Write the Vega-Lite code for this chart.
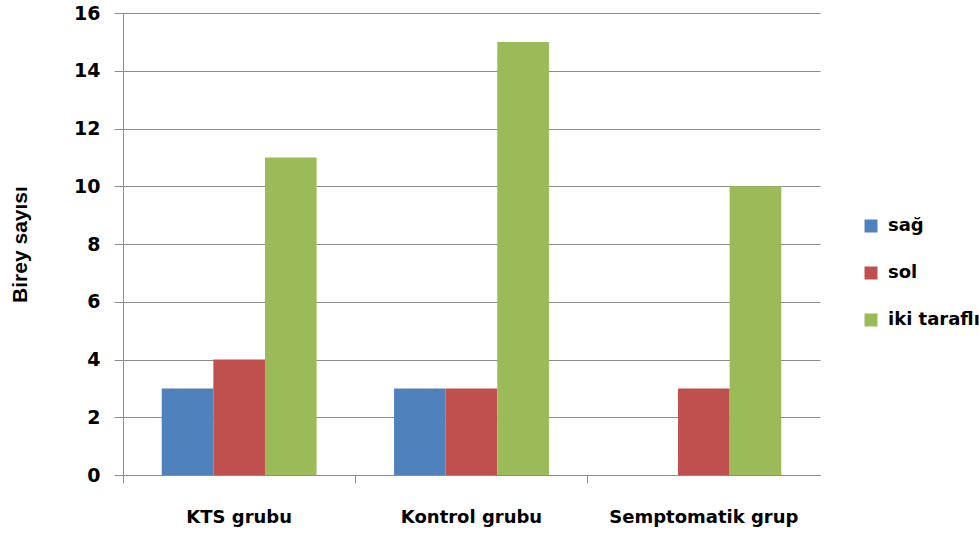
{
  "$schema": "https://vega.github.io/schema/vega-lite/v6.json",
  "width": 697,
  "height": 462,
  "autosize": {"type": "none"},
  "padding": {"left": 123, "top": 13, "right": 159, "bottom": 63},
  "background": "white",
  "config": {
    "view": {"stroke": null},
    "font": "DejaVu Sans"
  },
  "data": {
    "values": [
      {"grup": "KTS grubu", "taraf": "sağ", "sayi": 3},
      {"grup": "KTS grubu", "taraf": "sol", "sayi": 4},
      {"grup": "KTS grubu", "taraf": "iki taraflı", "sayi": 11},
      {"grup": "Kontrol grubu", "taraf": "sağ", "sayi": 3},
      {"grup": "Kontrol grubu", "taraf": "sol", "sayi": 3},
      {"grup": "Kontrol grubu", "taraf": "iki taraflı", "sayi": 15},
      {"grup": "Semptomatik grup", "taraf": "sağ", "sayi": 0},
      {"grup": "Semptomatik grup", "taraf": "sol", "sayi": 3},
      {"grup": "Semptomatik grup", "taraf": "iki taraflı", "sayi": 10}
    ]
  },
  "mark": {"type": "bar"},
  "encoding": {
    "x": {
      "field": "grup",
      "type": "nominal",
      "sort": ["KTS grubu", "Kontrol grubu", "Semptomatik grup"],
      "scale": {"paddingInner": 0, "paddingOuter": 0},
      "axis": {
        "title": null,
        "labelAngle": 0,
        "bandPosition": 0,
        "domainColor": "#8c8c8c",
        "tickColor": "#8c8c8c",
        "tickSize": 8,
        "labelPadding": 39,
        "labelLimit": 400,
        "labelFont": "DejaVu Sans",
        "labelFontWeight": "bold",
        "labelFontSize": 18,
        "labelColor": "#000000",
        "labelBaseline": "alphabetic"
      }
    },
    "xOffset": {
      "field": "taraf",
      "type": "nominal",
      "sort": ["sağ", "sol", "iki taraflı"],
      "scale": {"paddingInner": 0, "paddingOuter": 0.75}
    },
    "y": {
      "field": "sayi",
      "type": "quantitative",
      "scale": {"domain": [0, 16], "nice": false},
      "axis": {
        "title": "Birey sayısı",
        "values": [0, 2, 4, 6, 8, 10, 12, 14, 16],
        "grid": true,
        "gridColor": "#8c8c8c",
        "gridWidth": 1,
        "domainColor": "#8c8c8c",
        "tickColor": "#8c8c8c",
        "tickSize": 9,
        "labelPadding": 14,
        "labelFont": "DejaVu Sans",
        "labelFontWeight": "bold",
        "labelFontSize": 19,
        "labelColor": "#000000",
        "titleFont": "Liberation Sans",
        "titleFontWeight": "bold",
        "titleFontSize": 21,
        "titleColor": "#000000",
        "titleAngle": -90,
        "titleX": -103,
        "titleY": 231,
        "titleAlign": "center",
        "titleBaseline": "middle"
      }
    },
    "color": {
      "field": "taraf",
      "type": "nominal",
      "sort": ["sağ", "sol", "iki taraflı"],
      "scale": {"domain": ["sağ", "sol", "iki taraflı"], "range": ["#4F81BD", "#C0504D", "#9BBB59"]},
      "legend": {
        "title": null,
        "orient": "none",
        "legendX": 739,
        "legendY": 204,
        "padding": 0,
        "symbolType": "square",
        "symbolSize": 169,
        "symbolStrokeWidth": 0,
        "labelFont": "DejaVu Sans",
        "labelFontWeight": "bold",
        "labelFontSize": 18,
        "labelColor": "#000000",
        "labelOffset": 8,
        "labelLimit": 200,
        "rowPadding": 29
      }
    }
  }
}
